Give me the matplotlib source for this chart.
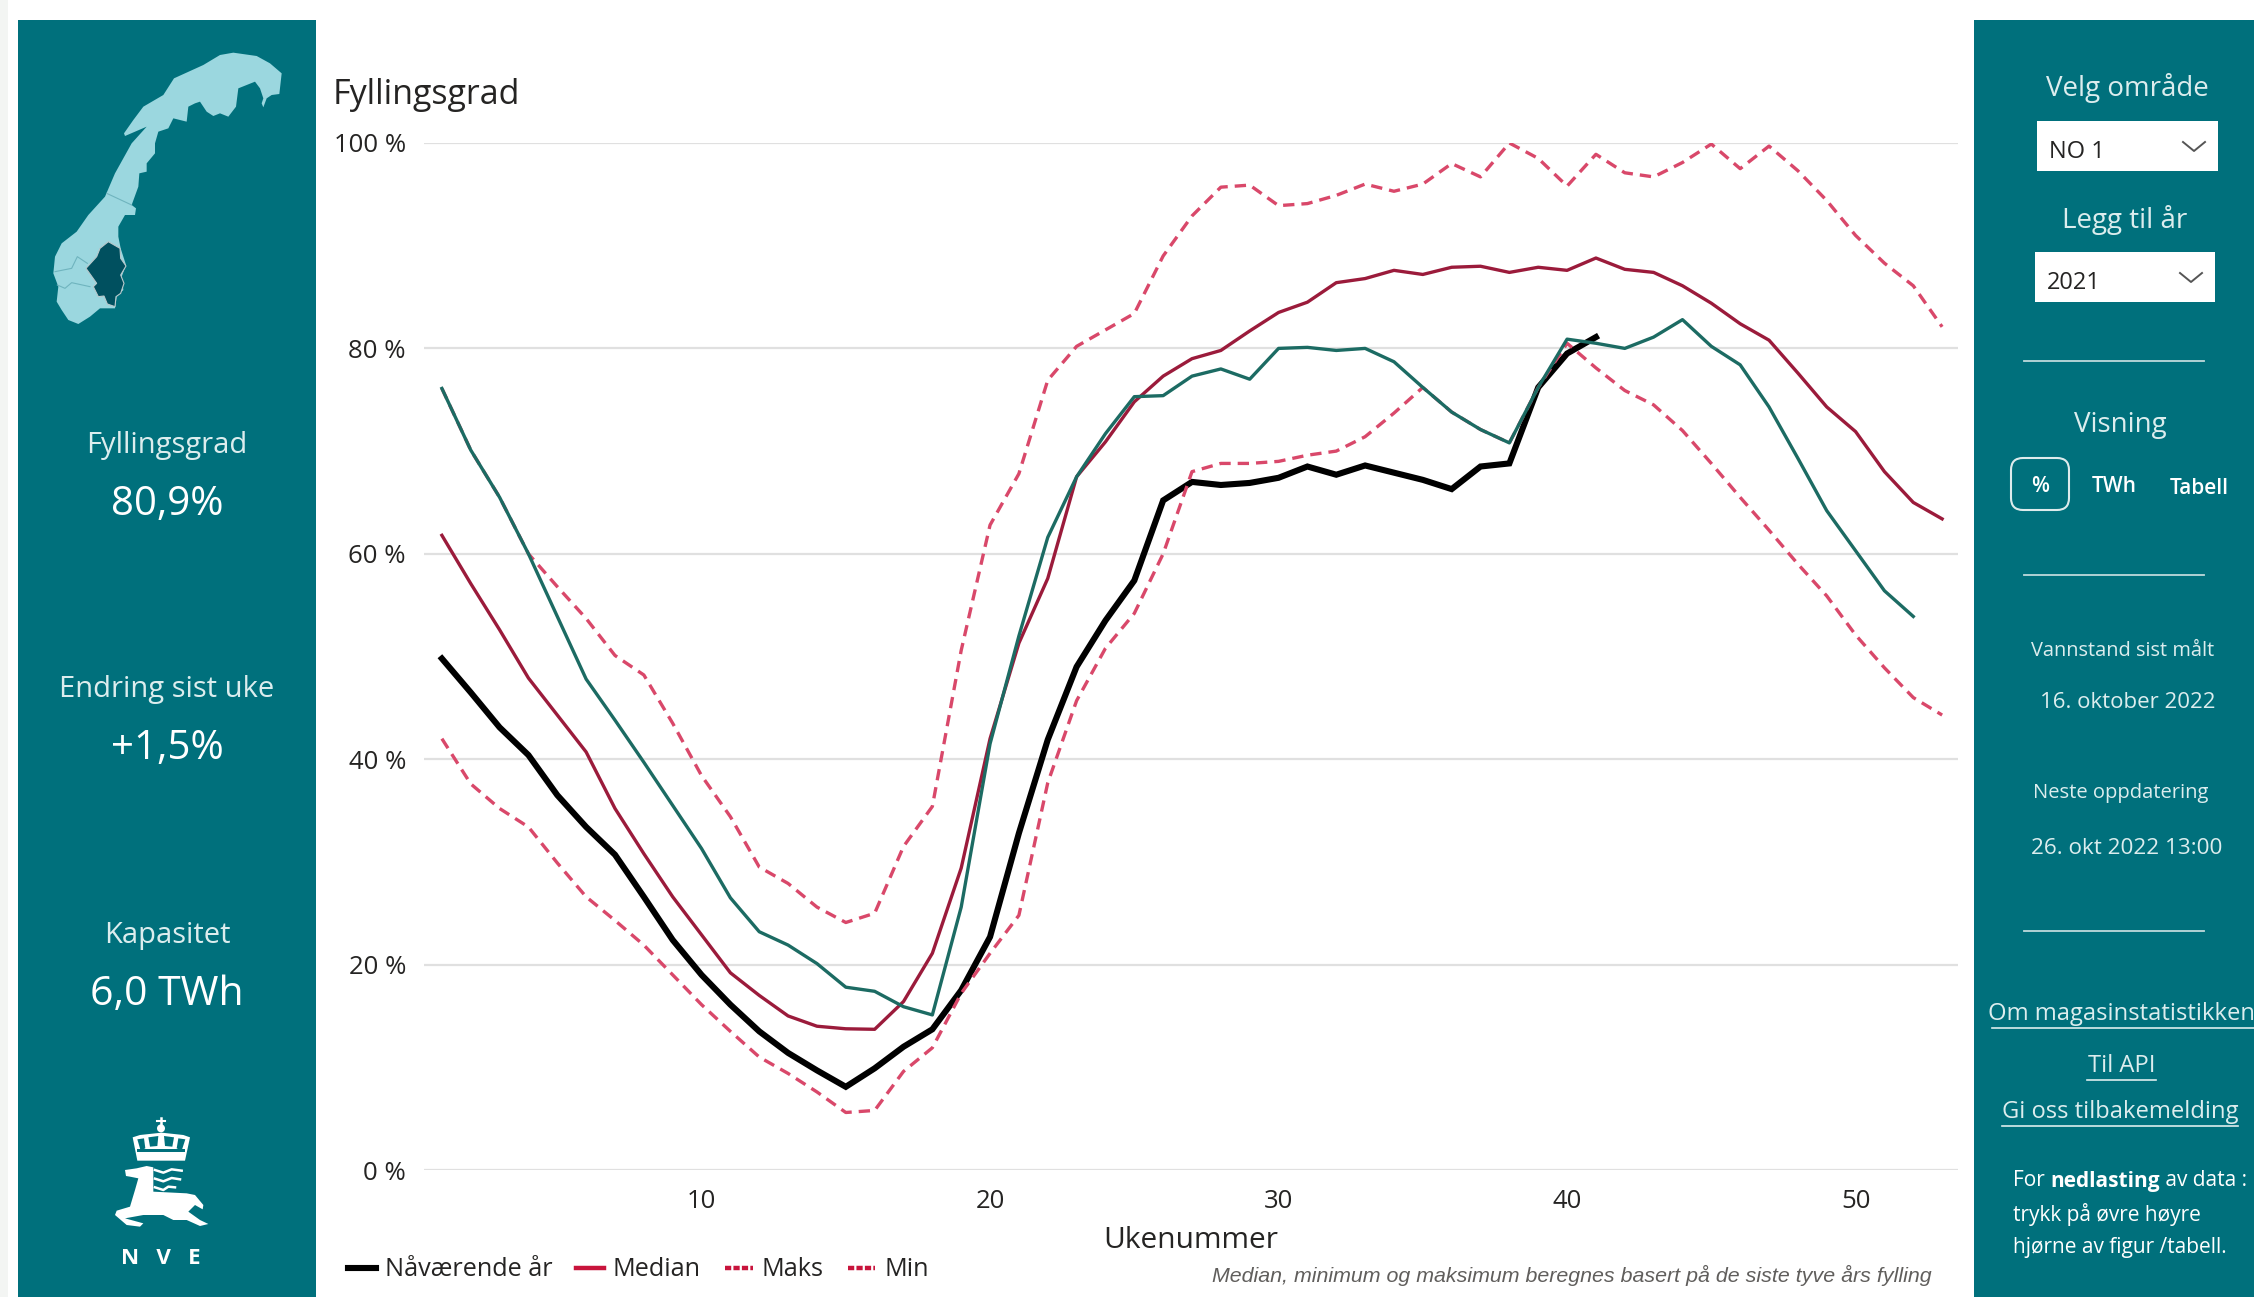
import matplotlib
matplotlib.use('Agg')
import matplotlib.pyplot as plt
from matplotlib.lines import Line2D
from matplotlib.patches import Rectangle, Polygon, FancyBboxPatch, Circle

plt.rcParams['font.family'] = ['Open Sans', 'DejaVu Sans']

# values, percent per week
current_weeks = list(range(1, 42))
current = [49.8, 46.5, 43.1, 40.4, 36.5, 33.4, 30.7, 26.6, 22.4, 19.0, 16.1, 13.5, 11.4, 9.7, 8.1,
           9.9, 12.0, 13.7, 17.5, 22.7, 32.8, 41.9, 49.0, 53.5, 57.4, 65.2, 67.0, 66.7, 66.9, 67.4,
           68.5, 67.7, 68.6, 67.9, 67.2, 66.3, 68.5, 68.8, 76.2, 79.5, 81.1]

median_weeks = list(range(1, 54))
median = [61.8, 57.1, 52.6, 47.9, 44.3, 40.7, 35.2, 30.8, 26.6, 22.9, 19.2, 17.0, 15.0, 14.0, 13.75,
          13.7, 16.4, 21.1, 29.4, 42.0, 51.3, 57.6, 67.5, 70.9, 74.8, 77.3, 79.0, 79.8, 81.7, 83.5,
          84.5, 86.4, 86.8, 87.6, 87.2, 87.9, 88.0, 87.4, 87.9, 87.6, 88.8, 87.7, 87.4, 86.1, 84.4,
          82.4, 80.8, 77.6, 74.3, 71.9, 68.0, 65.0, 63.4]

maks = [76.1, 70.1, 65.5, 60.0, 56.8, 53.7, 50.1, 48.2, 43.5, 38.4, 34.4, 29.5, 27.9, 25.6, 24.1,
        25.0, 31.5, 35.4, 50.6, 62.8, 67.8, 76.9, 80.2, 81.8, 83.4, 89.0, 92.9, 95.7, 95.9, 93.9,
        94.1, 94.9, 96.0, 95.3, 96.0, 98.0, 96.7, 100.0, 98.5, 95.8, 98.9, 97.1, 96.7, 98.1, 99.9,
        97.5, 99.7, 97.3, 94.4, 91.0, 88.3, 86.1, 82.1]

minimum = [42.0, 37.6, 35.2, 33.4, 29.9, 26.6, 24.3, 21.9, 19.0, 16.1, 13.5, 11.0, 9.4, 7.6, 5.6,
           5.8, 9.6, 11.9, 17.2, 21.1, 24.8, 37.7, 45.7, 50.8, 54.2, 60.0, 68.0, 68.8, 68.8, 69.0,
           69.6, 70.0, 71.4, 73.7, 76.2, 73.8, 72.1, 70.8, 76.2, 80.5, 78.1, 75.9, 74.5, 72.0, 68.8,
           65.5, 62.3, 59.0, 55.9, 52.1, 48.9, 46.0, 44.3]

year_weeks = list(range(1, 53))
year_2021 = [76.1, 70.1, 65.5, 60.0, 53.9, 47.8, 43.8, 39.7, 35.5, 31.3, 26.5, 23.2, 21.9, 20.1, 17.8,
             17.4, 15.9, 15.1, 25.6, 41.5, 52.0, 61.6, 67.5, 71.7, 75.3, 75.4, 77.3, 78.0, 77.0, 80.0,
             80.1, 79.8, 80.0, 78.7, 76.2, 73.8, 72.1, 70.8, 76.2, 80.9, 80.5, 80.0, 81.1, 82.8, 80.2,
             78.4, 74.3, 69.3, 64.2, 60.3, 56.4, 53.9]

x_ticks = [10, 20, 30, 40, 50]
y_ticks = [0, 20, 40, 60, 80, 100]
y_labels = ['0 %', '20 %', '40 %', '60 %', '80 %', '100 %']

teal = '#00707C'
ink = '#252423'
pale = '#DCEDEE'

W, H = 2254, 1297
fig = plt.figure(figsize=(W / 100, H / 100), dpi=100, facecolor='white')

# whole figure in pixels, y down, for the dashboard panels
bg = fig.add_axes([0, 0, 1, 1])
bg.set_xlim(0, W)
bg.set_ylim(H, 0)
bg.axis('off')
bg.add_patch(Rectangle((0, 0), 8, H, color='#F3F5F3', lw=0))
bg.add_patch(Rectangle((18, 20), 298, H - 20, color=teal, lw=0))
bg.add_patch(Rectangle((1974, 20), W - 1974, H - 20, color=teal, lw=0))


def zoomed(points, dx=0, dy=0):
    return [(dx + a / 3, dy + b / 3) for a, b in points]


# map of Norway
map_outline = [(372, 400), (400, 360), (430, 320), (490, 285), (522, 235), (610, 195), (660, 165), (700, 158),
               (770, 168), (810, 190), (845, 220), (838, 282), (815, 285), (800, 295), (790, 322), (785, 310),
               (790, 295), (780, 265), (765, 245), (740, 255), (715, 265), (708, 320), (685, 350), (660, 340),
               (640, 348), (620, 335), (600, 305), (585, 310), (565, 320), (560, 365), (520, 355), (505, 385),
               (475, 395), (465, 430), (465, 460), (440, 490), (440, 515), (418, 520), (415, 560), (395, 615),
               (408, 625), (405, 645), (375, 645), (355, 680), (355, 710), (362, 745), (378, 795), (365, 830),
               (370, 870), (350, 890), (345, 925), (300, 925), (270, 950), (235, 972), (205, 960), (185, 930),
               (170, 905), (175, 860), (160, 820), (165, 770), (185, 730), (230, 695), (265, 645), (315, 590),
               (345, 520), (395, 430), (440, 380), (375, 408)]
map_region = [(325, 725), (360, 745), (362, 775), (378, 798), (362, 825), (372, 850), (362, 880), (348, 890),
              (345, 920), (322, 912), (312, 888), (295, 890), (280, 860), (290, 850), (258, 805), (290, 770),
              (300, 745)]
bg.add_patch(Polygon(zoomed(map_outline), color='#9BD7DF', lw=0))
bg.add_patch(Polygon(zoomed(map_region), facecolor='#00505F', edgecolor='#B9C9CC', lw=0.8))
for part in ([(320, 580), (395, 615)],
             [(165, 815), (215, 805), (232, 770), (262, 790)],
             [(172, 855), (195, 865), (215, 848), (270, 860)]):
    xs, ys = zip(*zoomed(part))
    bg.plot(xs, ys, color='#6FB4BE', lw=0.8)

# NVE logo
crown = [(398, 172), (420, 165), (485, 158), (550, 165), (570, 172), (555, 242), (412, 242)]
crown_holes = [[(412, 178), (432, 175), (436, 205), (422, 212)], [(445, 172), (475, 168), (472, 198), (450, 200)],
               [(492, 168), (522, 172), (517, 200), (495, 198)], [(535, 175), (556, 178), (545, 212), (530, 205)]]
stag = [(375, 270), (410, 265), (440, 258), (460, 262), (460, 335), (560, 340), (585, 345), (610, 375), (608, 388),
        (585, 375), (565, 395), (600, 420), (625, 432), (600, 438), (560, 420), (520, 420), (490, 405), (430, 405),
        (375, 415), (430, 430), (420, 440), (380, 435), (345, 405), (350, 392), (390, 380), (405, 330), (415, 295),
        (390, 290), (378, 288)]
bg.add_patch(Polygon(zoomed(crown, 0, 1080), color='white', lw=0))
for hole in crown_holes:
    bg.add_patch(Polygon(zoomed(hole, 0, 1080), color=teal, lw=0))
bg.add_patch(Rectangle((137, 1080 + 208 / 3), 48, 3, color=teal, lw=0))
bg.add_patch(Circle((161, 1080 + 145 / 3), 4, color='white', lw=0))
bg.plot([161, 161], [1118, 1126], color='white', lw=1.8)
bg.plot([157, 165], [1121, 1121], color='white', lw=1.5)
bg.add_patch(Polygon(zoomed(stag, 0, 1080), color='white', lw=0))
for wave in ([(465, 270), (490, 278), (515, 268), (545, 272)],
             [(465, 296), (490, 304), (515, 294), (540, 298)],
             [(465, 322), (490, 330), (505, 320), (525, 322)]):
    xs, ys = zip(*zoomed(wave, 0, 1080))
    bg.plot(xs, ys, color='white', lw=1.8)
bg.text(161, 1259, 'N   V   E', color='white', fontsize=16, fontweight='bold', ha='center', va='center')

# left panel figures
for label, value, vsize, y1, y2 in [('Fyllingsgrad', '80,9%', 29, 446, 505),
                                    ('Endring sist uke', '+1,5%', 29, 690, 749),
                                    ('Kapasitet', '6,0 TWh', 29.5, 935, 995)]:
    bg.text(167, y1, label, color=pale, fontsize=21, ha='center', va='center')
    bg.text(167, y2, value, color='white', fontsize=vsize, ha='center', va='center')

# right panel
for text, x, y, size in [('Velg område', 2127, 88, 20), ('Legg til år', 2125, 220, 20), ('Visning', 2120, 425, 20),
                         ('Vannstand sist målt', 2123, 651, 14.4), ('16. oktober 2022', 2128, 702, 16),
                         ('Neste oppdatering', 2121, 793, 14.5), ('26. okt 2022 13:00', 2127, 849, 16.2)]:
    bg.text(x, y, text, color=pale, fontsize=size, ha='center', va='center')

for text, x0, x1, y0, y1, tx in [('NO 1', 2037, 2218, 121, 171, 2049), ('2021', 2035, 2215, 252, 302, 2047)]:
    bg.add_patch(Rectangle((x0, y0), x1 - x0, y1 - y0, color='white', lw=0))
    bg.text(tx, (y0 + y1) / 2 + 6, text, color=ink, fontsize=17, ha='left', va='center')
    bg.plot([x1 - 35, x1 - 24, x1 - 13], [y0 + 21, y0 + 30, y0 + 21], color='#555555', lw=1.4)

bg.add_patch(FancyBboxPatch((2011, 458), 58, 52, boxstyle='round,pad=0,rounding_size=12',
                            facecolor=teal, edgecolor='#DDEBEC', lw=1.5))
bg.text(2040, 486, '%', color='white', fontsize=15, ha='center', va='center', fontweight='semibold')
bg.text(2114, 486, 'TWh', color='white', fontsize=15, ha='center', va='center', fontweight='semibold')
bg.text(2199, 488, 'Tabell', color='white', fontsize=15, ha='center', va='center', fontweight='semibold')

for y in [361, 575, 931]:
    bg.plot([2024, 2204], [y, y], color='#BFDADC', lw=1.3)

for text, x, y, x0, x1 in [('Om magasinstatistikken', 2122, 1014, 1992, 2254),
                           ('Til API', 2122, 1066, 2087, 2156),
                           ('Gi oss tilbakemelding', 2120, 1112, 2002, 2238)]:
    bg.text(x, y, text, color=pale, fontsize=17.1, ha='center', va='center')
    bg.plot([x0, x1], [y + 14, y + 14], color=pale, lw=1.2)

t1 = bg.text(2013, 1181, 'For ', color='white', fontsize=15, va='center')
t2 = bg.annotate('nedlasting', xy=(1, 0), xycoords=t1, color='white', fontsize=15, fontweight='bold', va='bottom')
bg.annotate(' av data :', xy=(1, 0), xycoords=t2, color='white', fontsize=15, va='bottom')
bg.text(2013, 1215, 'trykk på øvre høyre', color='white', fontsize=15, va='center')
bg.text(2013, 1248, 'hjørne av figur /tabell.', color='white', fontsize=15, va='center')

# the chart
left, right, top, bottom = 424, 1958, 143, 1170
ax = fig.add_axes([left / W, 1 - bottom / H, (right - left) / W, (bottom - top) / H])
ax.patch.set_alpha(0)
ax.set_xlim(0.38, 53.55)
ax.set_ylim(0, 100)

dash = (0, (3.4, 2.1))
ax.plot(current_weeks, current, color='black', lw=4.4, solid_joinstyle='miter', zorder=3)
ax.plot(median_weeks, maks, color='#D9486A', lw=2.4, linestyle=dash, zorder=4)
ax.plot(median_weeks, minimum, color='#D9486A', lw=2.4, linestyle=dash, zorder=4)
ax.plot(median_weeks, median, color='#9B1B3B', lw=2.4, zorder=5)
ax.plot(year_weeks, year_2021, color='#1C6B63', lw=2.4, zorder=6)

ax.set_xticks(x_ticks)
ax.set_yticks(y_ticks)
ax.set_yticklabels(y_labels)
ax.tick_params(axis='both', length=0, labelsize=18.5, labelcolor=ink)
ax.tick_params(axis='x', pad=14)
ax.tick_params(axis='y', pad=13)
ax.grid(axis='y', color='#E0E0E0', lw=1.6)
ax.set_axisbelow(True)
for side in ax.spines.values():
    side.set_visible(False)

bg.text(333, 95, 'Fyllingsgrad', color=ink, fontsize=24.5, ha='left', va='center')
bg.text(1191, 1241, 'Ukenummer', color=ink, fontsize=21.5, ha='center', va='center')
bg.text(1932, 1275, 'Median, minimum og maksimum beregnes basert på de siste tyve års fylling', color='#605E5C',
        fontsize=15.4, family='Liberation Sans', style='italic', ha='right', va='center')

handles = [Line2D([], [], color='black', lw=4.4),
           Line2D([], [], color='#C8143C', lw=3.2),
           Line2D([], [], color='#C8143C', lw=3.2, linestyle=(0, (1.4, 0.5))),
           Line2D([], [], color='#C8143C', lw=3.2, linestyle=(0, (1.4, 0.5)))]
fig.legend(handles, ['Nåværende år', 'Median', 'Maks', 'Min'], ncol=4, frameon=False, fontsize=18.2, labelcolor=ink,
           loc='center left', bbox_to_anchor=(348 / W, 1 - 1270 / H), borderpad=0, borderaxespad=0,
           handlelength=1.1, handletextpad=0.35, columnspacing=0.95)

fig.savefig('out.png', dpi=100)
